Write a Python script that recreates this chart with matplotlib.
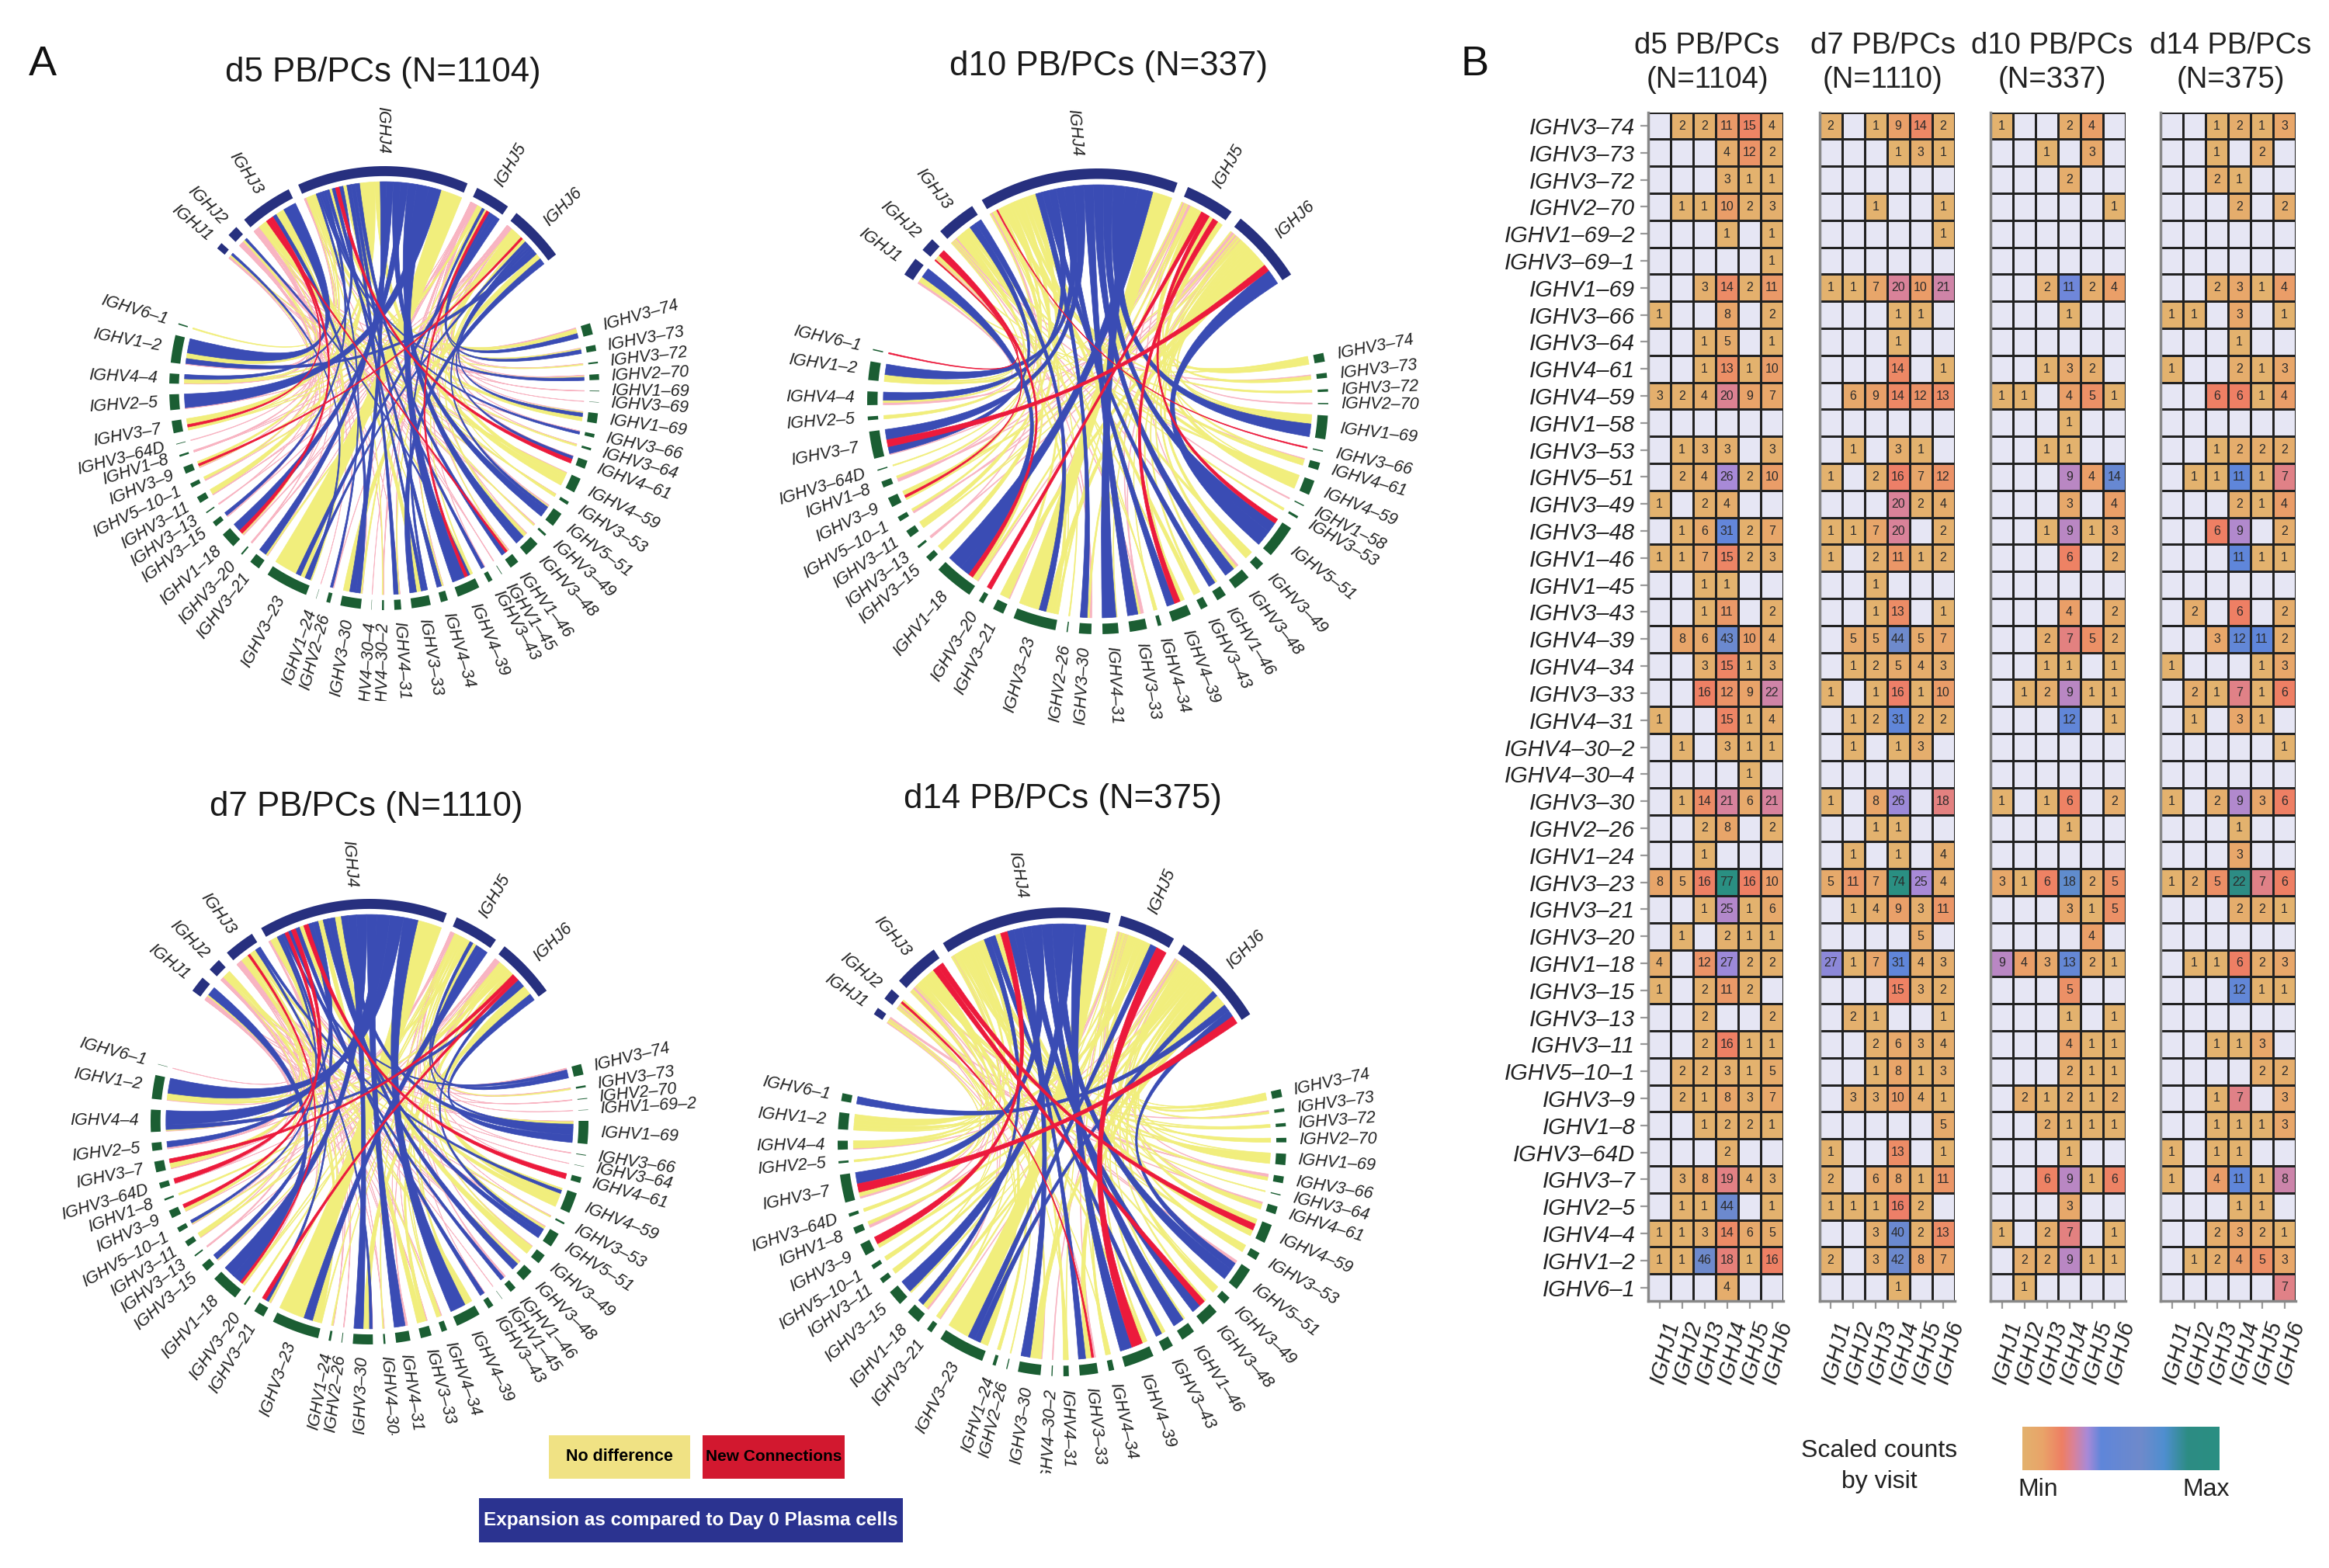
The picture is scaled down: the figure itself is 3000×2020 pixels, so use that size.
import numpy as np
import matplotlib
matplotlib.use("Agg")
import matplotlib.pyplot as plt
from matplotlib.colors import LinearSegmentedColormap
from matplotlib.patches import PathPatch, Polygon
from matplotlib.path import Path
from matplotlib.transforms import ScaledTranslation

plt.rcParams['font.family'] = ['Liberation Sans', 'DejaVu Sans']

W, H = 3000, 2020

v_genes = ["3-74", "3-73", "3-72", "2-70", "1-69-2", "3-69-1", "1-69", "3-66", "3-64", "4-61", "4-59",
           "1-58", "3-53", "5-51", "3-49", "3-48", "1-46", "1-45", "3-43", "4-39", "4-34", "3-33",
           "4-31", "4-30-2", "4-30-4", "3-30", "2-26", "1-24", "3-23", "3-21", "3-20", "1-18", "3-15",
           "3-13", "3-11", "5-10-1", "3-9", "1-8", "3-64D", "3-7", "2-5", "4-4", "1-2", "6-1"]
j_genes = ["IGHJ1", "IGHJ2", "IGHJ3", "IGHJ4", "IGHJ5", "IGHJ6"]

d5_counts = [
    [0, 2, 2, 11, 15, 4], [0, 0, 0, 4, 12, 2], [0, 0, 0, 3, 1, 1], [0, 1, 1, 10, 2, 3],
    [0, 0, 0, 1, 0, 1], [0, 0, 0, 0, 0, 1], [0, 0, 3, 14, 2, 11], [1, 0, 0, 8, 0, 2],
    [0, 0, 1, 5, 0, 1], [0, 0, 1, 13, 1, 10], [3, 2, 4, 20, 9, 7], [0, 0, 0, 0, 0, 0],
    [0, 1, 3, 3, 0, 3], [0, 2, 4, 26, 2, 10], [1, 0, 2, 4, 0, 0], [0, 1, 6, 31, 2, 7],
    [1, 1, 7, 15, 2, 3], [0, 0, 1, 1, 0, 0], [0, 0, 1, 11, 0, 2], [0, 8, 6, 43, 10, 4],
    [0, 0, 3, 15, 1, 3], [0, 0, 16, 12, 9, 22], [1, 0, 0, 15, 1, 4], [0, 1, 0, 3, 1, 1],
    [0, 0, 0, 0, 1, 0], [0, 1, 14, 21, 6, 21], [0, 0, 2, 8, 0, 2], [0, 0, 1, 0, 0, 0],
    [8, 5, 16, 77, 16, 10], [0, 0, 1, 25, 1, 6], [0, 1, 0, 2, 1, 1], [4, 0, 12, 27, 2, 2],
    [1, 0, 2, 11, 2, 0], [0, 0, 2, 0, 0, 2], [0, 0, 2, 16, 1, 1], [0, 2, 2, 3, 1, 5],
    [0, 2, 1, 8, 3, 7], [0, 0, 1, 2, 2, 1], [0, 0, 0, 2, 0, 0], [0, 3, 8, 19, 4, 3],
    [0, 1, 1, 44, 0, 1], [1, 1, 3, 14, 6, 5], [1, 1, 46, 18, 1, 16], [0, 0, 0, 4, 0, 0]]
d7_counts = [
    [2, 0, 1, 9, 14, 2], [0, 0, 0, 1, 3, 1], [0, 0, 0, 0, 0, 0], [0, 0, 1, 0, 0, 1],
    [0, 0, 0, 0, 0, 1], [0, 0, 0, 0, 0, 0], [1, 1, 7, 20, 10, 21], [0, 0, 0, 1, 1, 0],
    [0, 0, 0, 1, 0, 0], [0, 0, 0, 14, 0, 1], [0, 6, 9, 14, 12, 13], [0, 0, 0, 0, 0, 0],
    [0, 1, 0, 3, 1, 0], [1, 0, 2, 16, 7, 12], [0, 0, 0, 20, 2, 4], [1, 1, 7, 20, 0, 2],
    [1, 0, 2, 11, 1, 2], [0, 0, 1, 0, 0, 0], [0, 0, 1, 13, 0, 1], [0, 5, 5, 44, 5, 7],
    [0, 1, 2, 5, 4, 3], [1, 0, 1, 16, 1, 10], [0, 1, 2, 31, 2, 2], [0, 1, 0, 1, 3, 0],
    [0, 0, 0, 0, 0, 0], [1, 0, 8, 26, 0, 18], [0, 0, 1, 1, 0, 0], [0, 1, 0, 1, 0, 4],
    [5, 11, 7, 74, 25, 4], [0, 1, 4, 9, 3, 11], [0, 0, 0, 0, 5, 0], [27, 1, 7, 31, 4, 3],
    [0, 0, 0, 15, 3, 2], [0, 2, 1, 0, 0, 1], [0, 0, 2, 6, 3, 4], [0, 0, 1, 8, 1, 3],
    [0, 3, 3, 10, 4, 1], [0, 0, 0, 0, 0, 5], [1, 0, 0, 13, 0, 1], [2, 0, 6, 8, 1, 11],
    [1, 1, 1, 16, 2, 0], [0, 0, 3, 40, 2, 13], [2, 0, 3, 42, 8, 7], [0, 0, 0, 1, 0, 0]]
d10_counts = [
    [1, 0, 0, 2, 4, 0], [0, 0, 1, 0, 3, 0], [0, 0, 0, 2, 0, 0], [0, 0, 0, 0, 0, 1],
    [0, 0, 0, 0, 0, 0], [0, 0, 0, 0, 0, 0], [0, 0, 2, 11, 2, 4], [0, 0, 0, 1, 0, 0],
    [0, 0, 0, 0, 0, 0], [0, 0, 1, 3, 2, 0], [1, 1, 0, 4, 5, 1], [0, 0, 0, 1, 0, 0],
    [0, 0, 1, 1, 0, 0], [0, 0, 0, 9, 4, 14], [0, 0, 0, 3, 0, 4], [0, 0, 1, 9, 1, 3],
    [0, 0, 0, 6, 0, 2], [0, 0, 0, 0, 0, 0], [0, 0, 0, 4, 0, 2], [0, 0, 2, 7, 5, 2],
    [0, 0, 1, 1, 0, 1], [0, 1, 2, 9, 1, 1], [0, 0, 0, 12, 0, 1], [0, 0, 0, 0, 0, 0],
    [0, 0, 0, 0, 0, 0], [1, 0, 1, 6, 0, 2], [0, 0, 0, 1, 0, 0], [0, 0, 0, 0, 0, 0],
    [3, 1, 6, 18, 2, 5], [0, 0, 0, 3, 1, 5], [0, 0, 0, 0, 4, 0], [9, 4, 3, 13, 2, 1],
    [0, 0, 0, 5, 0, 0], [0, 0, 0, 1, 0, 1], [0, 0, 0, 4, 1, 1], [0, 0, 0, 2, 1, 1],
    [0, 2, 1, 2, 1, 2], [0, 0, 2, 1, 1, 1], [0, 0, 0, 1, 0, 0], [0, 0, 6, 9, 1, 6],
    [0, 0, 0, 3, 0, 0], [1, 0, 2, 7, 0, 1], [0, 2, 2, 9, 1, 1], [0, 1, 0, 0, 0, 0]]
d14_counts = [
    [0, 0, 1, 2, 1, 3], [0, 0, 1, 0, 2, 0], [0, 0, 2, 1, 0, 0], [0, 0, 0, 2, 0, 2],
    [0, 0, 0, 0, 0, 0], [0, 0, 0, 0, 0, 0], [0, 0, 2, 3, 1, 4], [1, 1, 0, 3, 0, 1],
    [0, 0, 0, 1, 0, 0], [1, 0, 0, 2, 1, 3], [0, 0, 6, 6, 1, 4], [0, 0, 0, 0, 0, 0],
    [0, 0, 1, 2, 2, 2], [0, 1, 1, 11, 1, 7], [0, 0, 0, 2, 1, 4], [0, 0, 6, 9, 0, 2],
    [0, 0, 0, 11, 1, 1], [0, 0, 0, 0, 0, 0], [0, 2, 0, 6, 0, 2], [0, 0, 3, 12, 11, 2],
    [1, 0, 0, 0, 1, 3], [0, 2, 1, 7, 1, 6], [0, 1, 0, 3, 1, 0], [0, 0, 0, 0, 0, 1],
    [0, 0, 0, 0, 0, 0], [1, 0, 2, 9, 3, 6], [0, 0, 0, 1, 0, 0], [0, 0, 0, 3, 0, 0],
    [1, 2, 5, 22, 7, 6], [0, 0, 0, 2, 2, 1], [0, 0, 0, 0, 0, 0], [0, 1, 1, 6, 2, 3],
    [0, 0, 0, 12, 1, 1], [0, 0, 0, 0, 0, 0], [0, 0, 1, 1, 3, 0], [0, 0, 0, 0, 2, 2],
    [0, 0, 1, 7, 0, 3], [0, 0, 1, 1, 1, 3], [1, 0, 1, 1, 0, 0], [1, 0, 4, 11, 1, 8],
    [0, 0, 0, 1, 1, 0], [0, 0, 2, 3, 2, 1], [0, 1, 2, 4, 5, 3], [0, 0, 0, 0, 0, 7]]

# links that are not the default colour for their size, as (V gene, J index)
d5_red = [("4-61", 3), ("4-39", 4), ("1-18", 2), ("3-9", 5), ("3-7", 2), ("1-46", 2)]
d5_yellow = [("3-23", 3), ("3-7", 3), ("4-59", 3), ("1-69", 3), ("3-11", 3), ("3-30", 5), ("3-33", 2),
             ("3-23", 2), ("1-2", 3), ("3-74", 3), ("3-9", 3), ("4-59", 4)]
d7_red = [("3-7", 5), ("4-61", 3), ("3-64D", 3), ("3-9", 3), ("3-21", 5), ("1-18", 2)]
d7_yellow = [("3-23", 3), ("3-49", 3), ("3-33", 3), ("4-59", 3), ("3-7", 3), ("3-30", 5), ("4-59", 5),
             ("4-59", 4), ("3-23", 1), ("1-2", 4), ("3-33", 5)]
d10_red = [("3-7", 5), ("5-51", 4), ("1-18", 1), ("4-39", 4), ("3-9", 1), ("3-20", 4), ("3-66", 3), ("6-1", 1)]
d10_yellow = [("3-23", 3)]
d14_red = [("3-7", 5), ("4-39", 4), ("3-48", 2), ("4-59", 2), ("3-9", 3), ("3-33", 1)]
d14_yellow = [("3-23", 3), ("3-30", 5), ("4-59", 3), ("3-33", 5), ("1-2", 4)]

day_names = ["d5", "d7", "d10", "d14"]
day_n = [1104, 1110, 337, 375]

col_blue = "#3A4CB4"
col_yellow = "#F1EE7C"
col_red = "#EC1A3C"
col_pink = "#F8B4C2"
col_j = "#27307F"
col_v = "#1B5E33"


def px_axes(x0, y0, x1, y1):
    ax = fig.add_axes([x0 / W, 1 - y1 / H, (x1 - x0) / W, (y1 - y0) / H])
    return ax


def pt(a, r):
    return r * np.sin(a), r * np.cos(a)


def arc(a0, a1, r):
    n = max(2, int(abs(a1 - a0) / np.radians(1.5)) + 2)
    return [pt(a, r) for a in np.linspace(a0, a1, n)]


def ribbon(ax, j_span, v_span, color, r=0.93, k=0.25):
    verts, codes = [], []
    top = arc(j_span[0], j_span[1], r)
    verts += top
    codes += [Path.MOVETO] + [Path.LINETO] * (len(top) - 1)
    p, q = np.array(top[-1]), np.array(pt(v_span[0], r))
    verts += [tuple(p * k), tuple(q * k), tuple(q)]
    codes += [Path.CURVE4] * 3
    low = arc(v_span[0], v_span[1], r)
    verts += low[1:]
    codes += [Path.LINETO] * (len(low) - 1)
    p, q = np.array(low[-1]), np.array(top[0])
    verts += [tuple(p * k), tuple(q * k), tuple(q)]
    codes += [Path.CURVE4] * 3
    ax.add_patch(PathPatch(Path(verts, codes), facecolor=color, edgecolor=color, lw=0.5))


def band(ax, a0, a1, color, r0=0.955, r1=1.0):
    ax.add_patch(Polygon(arc(a0, a1, r1) + arc(a1, a0, r0), closed=True, facecolor=color, edgecolor="none"))


def sector_label(ax, a, text, r=1.055, size=15.5):
    x, y = pt(a, r)
    deg = np.degrees(a) % 360
    if deg < 180:
        rot, ha = 90 - deg, "left"
    else:
        rot, ha = 270 - deg, "right"
    ax.text(x, y, text, rotation=rot, rotation_mode="anchor", ha=ha, va="center", fontsize=size,
            style="italic", color="#222222", clip_on=True)


def chord(counts, box, clip_y, j_range, v_range, red, yellow, blue_min, pink_max, labels, thin_mixed):
    cx, cy, rx, ry = box
    counts = np.array(counts)
    ax = px_axes(cx - 1.62 * rx, cy - 1.45 * ry, cx + 1.62 * rx, clip_y)
    ax.set_xlim(-1.62, 1.62)
    ax.set_ylim((cy - clip_y) / ry, 1.45)
    ax.axis("off")

    gap = np.radians(2.8)
    j_tot = counts.sum(axis=0)
    v_tot = counts.sum(axis=1)
    v_used = [i for i in range(len(v_tot)) if v_tot[i] > 0]

    j0, j1 = np.radians(j_range)
    v0, v1 = np.radians(v_range)
    j_scale = (j1 - j0 - gap * 5) / j_tot.sum()
    v_scale = (v1 - v0 - gap * (len(v_used) - 1)) / v_tot.sum()

    j_spans = {}
    a = j0
    for j in range(6):
        wid = j_tot[j] * j_scale
        band(ax, a, a + wid, col_j)
        sector_label(ax, a + wid / 2, j_genes[j])
        order = sorted([i for i in v_used if counts[i, j] > 0], key=lambda i: (counts[i, j], -i))
        b = a
        for i in order:
            j_spans[(i, j)] = (b, b + counts[i, j] * j_scale)
            b += counts[i, j] * j_scale
        a += wid + gap

    v_spans = {}
    a = v0
    for i in v_used:
        wid = v_tot[i] * v_scale
        band(ax, a, a + wid, col_v)
        sector_label(ax, a + wid / 2, "IGHV" + labels.get(v_genes[i], v_genes[i]).replace("-", "–"))
        order = sorted([j for j in range(6) if counts[i, j] > 0], key=lambda j: (counts[i, j], j))
        b = a
        for j in order:
            v_spans[(i, j)] = (b, b + counts[i, j] * v_scale)
            b += counts[i, j] * v_scale
        a += wid + gap

    red_idx = {(v_genes.index(g), j) for g, j in red}
    yellow_idx = {(v_genes.index(g), j) for g, j in yellow}
    links = {"pink": [], "yellow": [], "blue": [], "red": []}
    for key in j_spans:
        n = counts[key]
        if key in red_idx:
            links["red"].append(key)
        elif key in yellow_idx:
            links["yellow"].append(key)
        elif n >= blue_min:
            links["blue"].append(key)
        elif n <= pink_max and not (thin_mixed and key[0] % 2 == 0):
            links["pink"].append(key)
        else:
            links["yellow"].append(key)
    for name, colour in (("pink", col_pink), ("yellow", col_yellow), ("blue", col_blue), ("red", col_red)):
        for key in links[name]:
            ribbon(ax, j_spans[key], v_spans[key], colour)


fig = plt.figure(figsize=(W / 100, H / 100), dpi=100, facecolor="white")

# panel A
chord(d5_counts, (495, 500, 277, 286), 903, (-51, 53), (73, 287), d5_red, d5_yellow, 8, 2,
      {"1-69-2": "1-69", "3-69-1": "3-69"}, False)
chord(d10_counts, (1414, 517, 297, 300), 950, (-57, 57), (78, 283), d10_red, d10_yellow, 6, 1, {}, True)
chord(d7_counts, (476, 1445, 282, 287), 1849, (-54, 54), (75, 285), d7_red, d7_yellow, 8, 2, {}, False)
chord(d14_counts, (1368, 1471, 289, 302), 1898, (-57, 57), (77, 282), d14_red, d14_yellow, 6, 1, {}, True)

title_xy = [(493, 93), (472, 1040), (1428, 86), (1369, 1029)]
for (x, y), name, n in zip(title_xy, day_names, day_n):
    fig.text(x / W, 1 - y / H, f"{name} PB/PCs (N={n})", fontsize=31.5, ha="center", va="center", color="#1a1a1a")
fig.text(55 / W, 1 - 83 / H, "A", fontsize=39, ha="center", va="center", color="#111111")
fig.text(1900 / W, 1 - 83 / H, "B", fontsize=39, ha="center", va="center", color="#111111")

# legend boxes of panel A
for (x0, y0, x1, y1), txt, fc, tc, fs in [((707, 1849, 889, 1905), "No difference", "#F0E284", "black", 15.5),
                                          ((905, 1849, 1088, 1905), "New Connections", "#D2182F", "black", 15),
                                          ((617, 1930, 1163, 1987), "Expansion as compared to Day 0 Plasma cells", "#2B3390", "white", 17.5)]:
    lax = px_axes(x0, y0, x1, y1)
    lax.set_facecolor(fc)
    lax.set_xticks([])
    lax.set_yticks([])
    for s in lax.spines.values():
        s.set_visible(False)
    lax.text(0.5, 0.5, txt, transform=lax.transAxes, ha="center", va="center", fontsize=fs, fontweight="bold", color=tc)

# panel B
heat_cmap = LinearSegmentedColormap.from_list("scaled", [
    (0.0, "#E3B26E"), (0.10, "#E9A469"), (0.20, "#EE7F64"), (0.26, "#D9829A"), (0.33, "#A88AD8"),
    (0.40, "#5F86DA"), (0.60, "#6F8ACB"), (0.72, "#4F8FD0"), (0.84, "#2D8C84"), (1.0, "#2A8F82")])
heat_cmap.set_bad("#E6E6F4")

heat_left = [2123, 2343.5, 2564, 2783]
heat_width = 174
heat_top, heat_bottom = 144.6, 1676
heat_max = [77, 74, 27, 26]
head_x = [2199, 2425, 2643, 2873]
all_counts = [d5_counts, d7_counts, d10_counts, d14_counts]
tick_shift = ScaledTranslation(13 / 72, 0, fig.dpi_scale_trans)

for p in range(4):
    ax = px_axes(heat_left[p], heat_top, heat_left[p] + heat_width, heat_bottom)
    data = np.array(all_counts[p], dtype=float)
    masked = np.ma.masked_equal(data, 0)
    ax.pcolormesh(np.arange(7), np.arange(45), masked, cmap=heat_cmap, vmin=1, vmax=heat_max[p],
                  edgecolors="#222222", linewidth=1.8)
    ax.set_xlim(0, 6)
    ax.set_ylim(44, 0)
    for i in range(44):
        for j in range(6):
            if data[i, j] > 0:
                ax.text(j + 0.5, i + 0.5, str(int(data[i, j])), ha="center", va="center", fontsize=11.5, color="#2b2b2b")
    ax.set_xticks(np.arange(6) + 0.5)
    ax.set_xticklabels(j_genes, rotation=76, rotation_mode="anchor", ha="right", va="center", style="italic",
                       fontsize=21, color="#222222")
    ax.tick_params(axis="x", length=7, width=1.6, color="#999999", pad=12)
    for lab in ax.get_xticklabels():
        lab.set_transform(lab.get_transform() + tick_shift)
    if p == 0:
        ax.set_yticks(np.arange(44) + 0.5)
        ax.set_yticklabels(["IGHV" + g.replace("-", "–") for g in v_genes], style="italic", fontsize=21, color="#222222")
        ax.tick_params(axis="y", length=7, width=1.6, color="#999999", pad=5)
    else:
        ax.set_yticks([])
    for name, s in ax.spines.items():
        s.set_visible(name in ("left", "bottom"))
        s.set_color("#888888")
        s.set_linewidth(2.5)
    fig.text(head_x[p] / W, 1 - 81 / H, f"{day_names[p]} PB/PCs\n(N={day_n[p]})", fontsize=27.5, ha="center", va="center",
             color="#222222", linespacing=1.3)

# colour key
cax = px_axes(2605, 1838, 2859, 1894)
cax.imshow(np.linspace(0, 1, 256)[None, :], aspect="auto", cmap=heat_cmap)
cax.axis("off")
fig.text(2421 / W, 1 - 1889 / H, "Scaled counts\nby visit", fontsize=23, ha="center", va="center", color="#222222", linespacing=1.45)
fig.text(2625 / W, 1 - 1919 / H, "Min", fontsize=23, ha="center", va="center", color="#222222")
fig.text(2842 / W, 1 - 1919 / H, "Max", fontsize=23, ha="center", va="center", color="#222222")

fig.savefig("out.png", dpi=100)
